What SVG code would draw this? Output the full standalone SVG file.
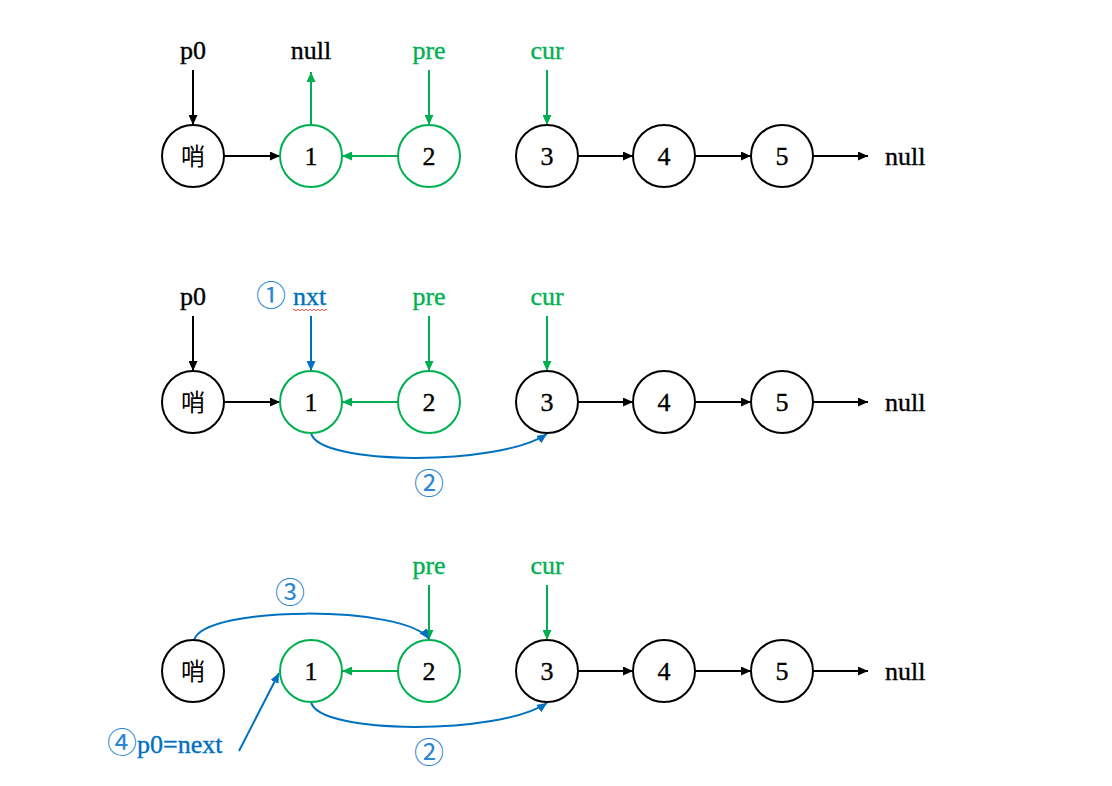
<svg xmlns="http://www.w3.org/2000/svg" width="1112" height="786" viewBox="0 0 1112 786">
<defs>
<style>
.nd{fill:#fff;stroke-width:2}
.bk{stroke:#000}
.gn{stroke:#00B050}
.bl{stroke:#0070C0}
.t{font-family:"Liberation Serif","Times New Roman",serif;font-size:26px;fill:#000;stroke:#000;stroke-width:0.35}
.num{text-anchor:middle}
.cjk{font-family:"Noto Sans CJK SC","Noto Sans CJK JP",sans-serif;font-size:24px;text-anchor:middle;fill:#000}
.circ{font-family:"Noto Sans CJK SC","Noto Sans CJK JP",sans-serif;font-size:30px;fill:#2F86D0}
.g{fill:#00B050;stroke:#00B050}
.b{fill:#0070C0;stroke:#0070C0}
.c{fill:none;stroke-width:2}
</style>
<marker id="ak" markerUnits="userSpaceOnUse" markerWidth="11" markerHeight="9" refX="10" refY="4.5" orient="auto"><path d="M0,0 L10,4.5 L0,9 z" fill="#000"/></marker>
<marker id="ag" markerUnits="userSpaceOnUse" markerWidth="11" markerHeight="9" refX="10" refY="4.5" orient="auto"><path d="M0,0 L10,4.5 L0,9 z" fill="#00B050"/></marker>
<marker id="ab" markerUnits="userSpaceOnUse" markerWidth="11" markerHeight="9" refX="10" refY="4.5" orient="auto"><path d="M0,0 L10,4.5 L0,9 z" fill="#0070C0"/></marker>
</defs>
<rect width="1112" height="786" fill="#fff"/>

<g id="connectors">
<line class="c bk" x1="193" y1="70" x2="193" y2="125" marker-end="url(#ak)"/>
<line class="c gn" x1="311" y1="125" x2="311" y2="72" marker-end="url(#ag)"/>
<line class="c gn" x1="429" y1="70" x2="429" y2="125" marker-end="url(#ag)"/>
<line class="c gn" x1="547" y1="70" x2="547" y2="125" marker-end="url(#ag)"/>
<line class="c bk" x1="224" y1="156" x2="280" y2="156" marker-end="url(#ak)"/>
<line class="c gn" x1="398" y1="156" x2="342" y2="156" marker-end="url(#ag)"/>
<line class="c bk" x1="578" y1="156" x2="633" y2="156" marker-end="url(#ak)"/>
<line class="c bk" x1="695" y1="156" x2="751" y2="156" marker-end="url(#ak)"/>
<line class="c bk" x1="813" y1="156" x2="868" y2="156" marker-end="url(#ak)"/>
<line class="c bk" x1="193" y1="316" x2="193" y2="371" marker-end="url(#ak)"/>
<line class="c bl" x1="311" y1="316" x2="311" y2="371" marker-end="url(#ab)"/>
<line class="c gn" x1="429" y1="316" x2="429" y2="371" marker-end="url(#ag)"/>
<line class="c gn" x1="547" y1="316" x2="547" y2="371" marker-end="url(#ag)"/>
<line class="c bk" x1="224" y1="402" x2="280" y2="402" marker-end="url(#ak)"/>
<line class="c gn" x1="398" y1="402" x2="342" y2="402" marker-end="url(#ag)"/>
<line class="c bk" x1="578" y1="402" x2="633" y2="402" marker-end="url(#ak)"/>
<line class="c bk" x1="695" y1="402" x2="751" y2="402" marker-end="url(#ak)"/>
<line class="c bk" x1="813" y1="402" x2="868" y2="402" marker-end="url(#ak)"/>
<path class="c bl" d="M311,433 C318,466 500,466 547,434" marker-end="url(#ab)"/>
<line class="c gn" x1="429" y1="585" x2="429" y2="640" marker-end="url(#ag)"/>
<line class="c gn" x1="547" y1="585" x2="547" y2="640" marker-end="url(#ag)"/>
<line class="c gn" x1="398" y1="671" x2="342" y2="671" marker-end="url(#ag)"/>
<line class="c bk" x1="578" y1="671" x2="633" y2="671" marker-end="url(#ak)"/>
<line class="c bk" x1="695" y1="671" x2="751" y2="671" marker-end="url(#ak)"/>
<line class="c bk" x1="813" y1="671" x2="868" y2="671" marker-end="url(#ak)"/>
<path class="c bl" d="M311,702 C318,735 500,735 547,703" marker-end="url(#ab)"/>
<path class="c bl" d="M194,640 C205,605 405,605 429,639" marker-end="url(#ab)"/>
<line class="c bl" x1="239" y1="751" x2="279" y2="673" marker-end="url(#ab)"/>
</g>

<g id="row1">
<g id="r1-sentinel"><circle class="nd bk" cx="193" cy="156" r="31"/><text class="cjk" x="193" y="165">哨</text></g>
<g id="r1-n1"><circle class="nd gn" cx="311" cy="156" r="31"/><text class="t num" x="311" y="165">1</text></g>
<g id="r1-n2"><circle class="nd gn" cx="429" cy="156" r="31"/><text class="t num" x="429" y="165">2</text></g>
<g id="r1-n3"><circle class="nd bk" cx="547" cy="156" r="31"/><text class="t num" x="547" y="165">3</text></g>
<g id="r1-n4"><circle class="nd bk" cx="664" cy="156" r="31"/><text class="t num" x="664" y="165">4</text></g>
<g id="r1-n5"><circle class="nd bk" cx="782" cy="156" r="31"/><text class="t num" x="782" y="165">5</text></g>
<g id="r1-labels">
<text class="t num" x="193" y="59">p0</text>
<text class="t num" x="311" y="59">null</text>
<text class="t num g" x="429" y="59">pre</text>
<text class="t num g" x="547" y="59">cur</text>
<text class="t" x="885" y="165">null</text>
</g>
</g>

<g id="row2">
<g id="r2-sentinel"><circle class="nd bk" cx="193" cy="402" r="31"/><text class="cjk" x="193" y="411">哨</text></g>
<g id="r2-n1"><circle class="nd gn" cx="311" cy="402" r="31"/><text class="t num" x="311" y="411">1</text></g>
<g id="r2-n2"><circle class="nd gn" cx="429" cy="402" r="31"/><text class="t num" x="429" y="411">2</text></g>
<g id="r2-n3"><circle class="nd bk" cx="547" cy="402" r="31"/><text class="t num" x="547" y="411">3</text></g>
<g id="r2-n4"><circle class="nd bk" cx="664" cy="402" r="31"/><text class="t num" x="664" y="411">4</text></g>
<g id="r2-n5"><circle class="nd bk" cx="782" cy="402" r="31"/><text class="t num" x="782" y="411">5</text></g>
<g id="r2-labels">
<text class="t num" x="193" y="305">p0</text>
<text class="circ" x="256" y="306">①</text>
<text class="t b" x="293" y="305">nxt</text>
<path d="M293,310 q1,-1.6 2,0 t2,0 t2,0 t2,0 t2,0 t2,0 t2,0 t2,0 t2,0 t2,0 t2,0 t2,0 t2,0 t2,0 t2,0 t2,0 t2,0" fill="none" stroke="#E02020" stroke-width="0.8"/>
<text class="t num g" x="429" y="305">pre</text>
<text class="t num g" x="547" y="305">cur</text>
<text class="circ" x="414" y="494">②</text>
<text class="t" x="885" y="411">null</text>
</g>
</g>

<g id="row3">
<g id="r3-sentinel"><circle class="nd bk" cx="193" cy="671" r="31"/><text class="cjk" x="193" y="680">哨</text></g>
<g id="r3-n1"><circle class="nd gn" cx="311" cy="671" r="31"/><text class="t num" x="311" y="680">1</text></g>
<g id="r3-n2"><circle class="nd gn" cx="429" cy="671" r="31"/><text class="t num" x="429" y="680">2</text></g>
<g id="r3-n3"><circle class="nd bk" cx="547" cy="671" r="31"/><text class="t num" x="547" y="680">3</text></g>
<g id="r3-n4"><circle class="nd bk" cx="664" cy="671" r="31"/><text class="t num" x="664" y="680">4</text></g>
<g id="r3-n5"><circle class="nd bk" cx="782" cy="671" r="31"/><text class="t num" x="782" y="680">5</text></g>
<g id="r3-labels">
<text class="t num g" x="429" y="574">pre</text>
<text class="t num g" x="547" y="574">cur</text>
<text class="circ" x="275" y="603">③</text>
<text class="circ" x="414" y="763">②</text>
<text x="107" y="753"><tspan class="circ">④</tspan><tspan class="t b">p0=next</tspan></text>
<text class="t" x="885" y="680">null</text>
</g>
</g>
</svg>
